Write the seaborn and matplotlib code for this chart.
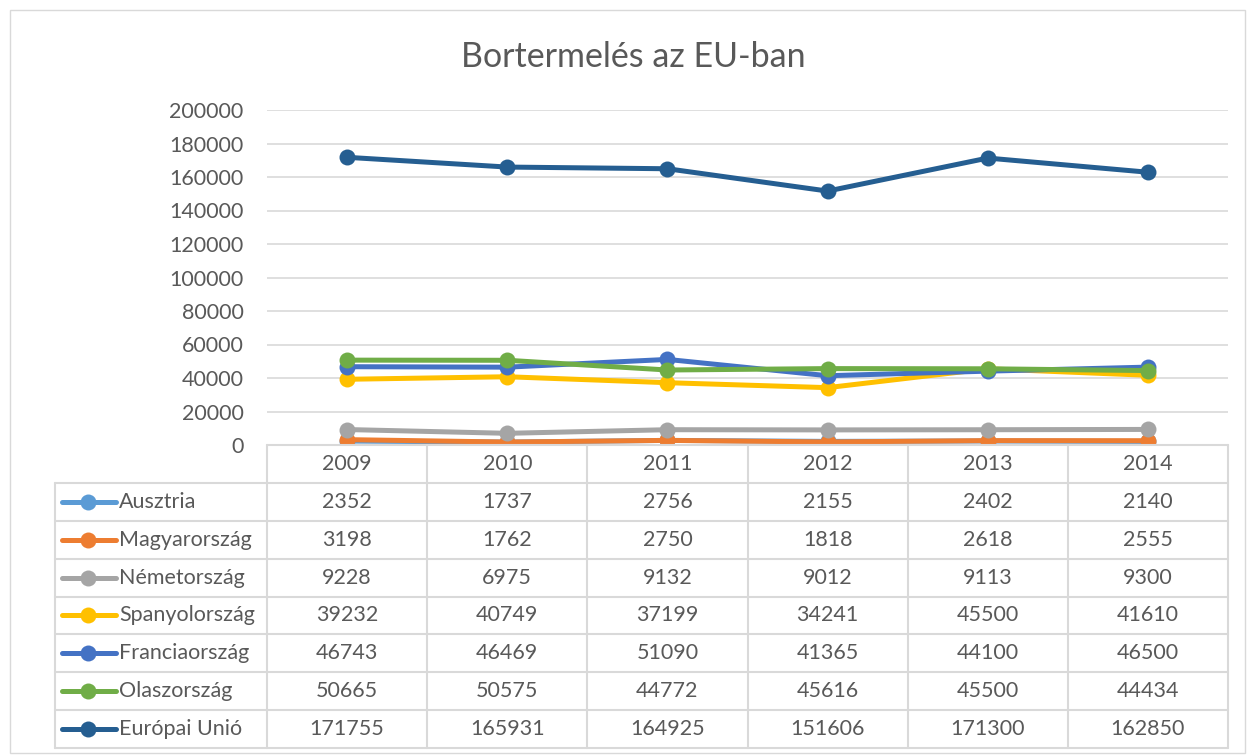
import matplotlib.pyplot as plt
import pandas as pd
import seaborn as sns

years = ["2009", "2010", "2011", "2012", "2013", "2014"]
countries = ["Ausztria", "Magyarország", "Németország", "Spanyolország",
             "Franciaország", "Olaszország", "Európai Unió"]
ausztria = [2352, 1737, 2756, 2155, 2402, 2140]
magyarorszag = [3198, 1762, 2750, 1818, 2618, 2555]
nemetorszag = [9228, 6975, 9132, 9012, 9113, 9300]
spanyolorszag = [39232, 40749, 37199, 34241, 45500, 41610]
franciaorszag = [46743, 46469, 51090, 41365, 44100, 46500]
olaszorszag = [50665, 50575, 44772, 45616, 45500, 44434]
eu = [171755, 165931, 164925, 151606, 171300, 162850]
colors = ["#5B9BD5", "#ED7D31", "#A5A5A5", "#FFC000", "#4472C4", "#70AD47", "#255E91"]

series = [ausztria, magyarorszag, nemetorszag, spanyolorszag,
          franciaorszag, olaszorszag, eu]
rows = []
for name, vals in zip(countries, series):
    for i, v in enumerate(vals):
        rows.append({"orszag": name, "ev": i, "termeles": v})
df = pd.DataFrame(rows)

sns.set_style("white")
plt.rcParams["font.family"] = ["Lato", "DejaVu Sans"]
txt = "#595959"
grid = "#D9D9D9"
fs = 15.5

W, H = 1247, 755
fig = plt.figure(figsize=(W / 100, H / 100), dpi=100)

# outer chart border
fig.patches.append(plt.Rectangle((10 / W, 2 / H), 1235 / W, 743 / H, transform=fig.transFigure,
                                 fill=False, edgecolor=grid, linewidth=1))

x0, x1 = 267, 1228
ax = fig.add_axes([x0 / W, 1 - 445 / H, (x1 - x0) / W, (445 - 110) / H])
sns.lineplot(data=df, x="ev", y="termeles", hue="orszag", hue_order=countries,
             palette=colors, marker="o", markersize=11.5, linewidth=3.6,
             markeredgewidth=0, legend=False, ax=ax)
ax.set_xlim(-0.5, 5.5)
ax.set_ylim(0, 200000)
ax.set_yticks(range(0, 200001, 20000))
ax.set_yticklabels([str(v) for v in range(0, 200001, 20000)], fontsize=fs, color=txt)
ax.set_xticks([])
ax.yaxis.grid(True, color=grid, linewidth=1.2)
ax.set_axisbelow(True)
ax.tick_params(axis="y", length=0, pad=17)
for s in ax.spines.values():
    s.set_visible(False)
ax.set_xlabel("")
ax.set_ylabel("")
fig.text(633 / W, 1 - 57 / H, "Bortermelés az EU-ban", ha="center", va="center",
         fontsize=24.5, color=txt)

# data table
tx0, ty0, ty1 = 55, 445, 748
tab = fig.add_axes([0, 0, 1, 1], facecolor="none")
tab.set_xlim(0, W)
tab.set_ylim(H, 0)
tab.axis("off")
colw = (x1 - x0) / 6
rowh = (ty1 - ty0) / 8
lw = 1.5
for i in range(7):
    xx = x0 + i * colw
    tab.plot([xx, xx], [ty0, ty1], color=grid, lw=lw)
tab.plot([tx0, tx0], [ty0 + rowh, ty1], color=grid, lw=lw)
tab.plot([x0, x1], [ty0, ty0], color=grid, lw=lw)
for r in range(1, 9):
    yy = ty0 + r * rowh
    tab.plot([tx0, x1], [yy, yy], color=grid, lw=lw)
for i, y in enumerate(years):
    tab.text(x0 + (i + 0.5) * colw, ty0 + 0.5 * rowh, y, ha="center", va="center",
             fontsize=fs, color=txt)
for r, (name, vals, c) in enumerate(zip(countries, series, colors)):
    yy = ty0 + (r + 1.5) * rowh
    tab.plot([62, 116], [yy, yy], color=c, lw=3.6, solid_capstyle="round")
    tab.plot([88], [yy], marker="o", color=c, markersize=11.5, markeredgewidth=0)
    tab.text(119, yy, name, ha="left", va="center", fontsize=fs, color=txt)
    for i, v in enumerate(vals):
        tab.text(x0 + (i + 0.5) * colw, yy, str(v), ha="center", va="center",
                 fontsize=fs, color=txt)

fig.savefig("out.png", dpi=100)
